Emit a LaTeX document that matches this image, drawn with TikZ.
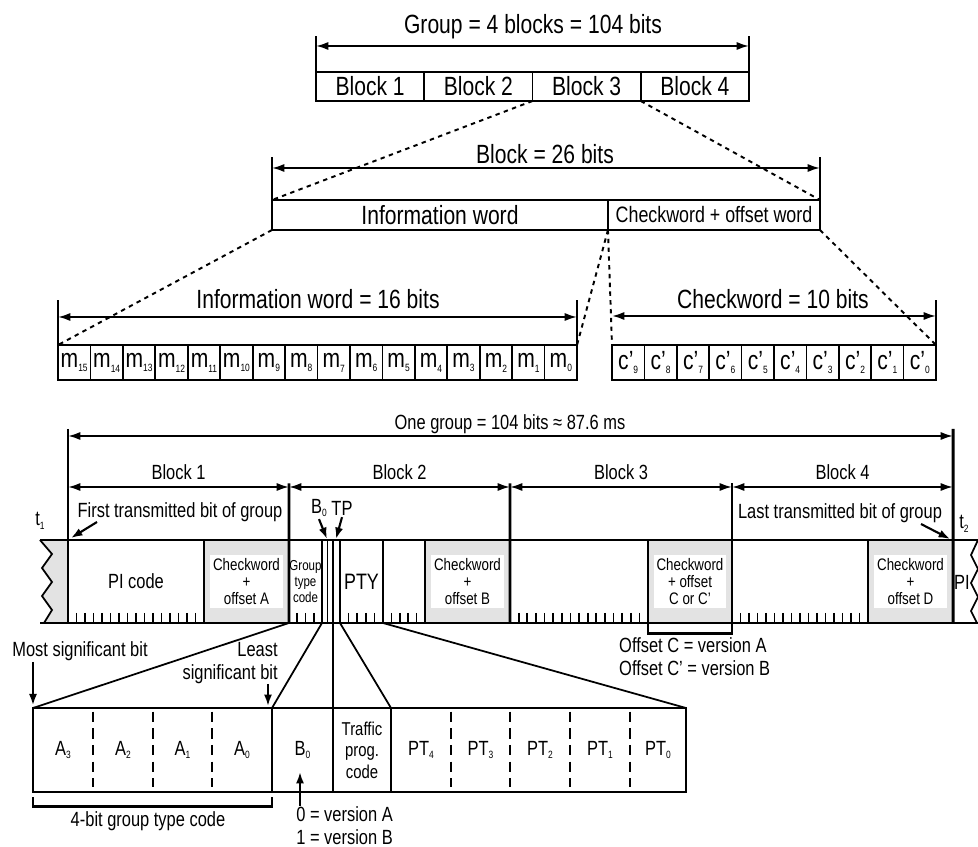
\documentclass[tikz,border=0pt]{standalone}
\usepackage{fontspec}
\setmainfont{Liberation Sans}[FakeStretch=0.8]
\usetikzlibrary{arrows.meta}

\newcommand{\lo}[1]{\raisebox{-0.35ex}{\fontsize{6}{6}\selectfont #1}}

\begin{document}
\begin{tikzpicture}[x=0.02cm, y=-0.02cm,
		big/.style={font=\fontsize{15}{17}\selectfont},
		lab/.style={font=\fontsize{11.7}{13.5}\selectfont},
		boxtext/.style={font=\fontsize{9.5}{9.8}\selectfont},
		cell/.style={draw, line width=1pt, inner sep=0pt, outer sep=0pt, big},
		field/.style={draw, line width=1pt, inner sep=0pt, outer sep=0pt, minimum height=1.66cm},
		bitcell/.style={inner sep=0pt, outer sep=0pt, minimum height=1.68cm, align=center, lab},
		whitebox/.style={fill=white, inner sep=0pt, minimum width=1.45cm, minimum height=1.06cm, align=center, boxtext},
		frame/.style={line width=1pt},
		heavy/.style={line width=1.7pt},
		dimline/.style={line width=1.1pt, {Latex[length=7pt,width=4.6pt]}-{Latex[length=7pt,width=4.6pt]}},
		ptr/.style={line width=1.2pt, -{Latex[length=6.5pt,width=4.6pt]}},
		link/.style={line width=1.1pt, dash pattern=on 2.5pt off 2.5pt},
		bitdash/.style={line width=1.6pt, dash pattern=on 6pt off 3.5pt}
	]
	\useasboundingbox (0,0) rectangle (978,847);

	% group = 4 blocks
	\foreach \i in {1,...,4}
		\node[cell, minimum width=2.165cm, minimum height=0.58cm] (blk\i) at ({316+108.25*(\i-0.5)},86.5) {Block \i};
	\coordinate (grpL) at (316,46);
	\coordinate (grpR) at (749,46);
	\draw[frame] (blk1.north west) -- ++(0,-36);
	\draw[frame] (blk4.north east) -- ++(0,-36);
	\draw[dimline] (grpL) -- (grpR);
	\node[big] (grplbl) at (533,27) {Group = 4 blocks = 104 bits};

	% one block
	\node[cell, minimum width=6.72cm, minimum height=0.6cm] (info) at (440,215) {Information word};
	\node[cell, minimum width=4.24cm, minimum height=0.6cm, font=\fontsize{12.7}{14}\selectfont] (check) at (714,215) {Checkword + offset word};
	\coordinate (blkL) at (272,168);
	\coordinate (blkR) at (820,168);
	\draw[frame] (info.north west) -- ++(0,-43);
	\draw[frame] (check.north east) -- ++(0,-43);
	\draw[dimline] (blkL) -- (blkR);
	\node[big] (blklbl) at (545,154) {Block = 26 bits};
	\draw[link] (blk3.south west) -- (info.north west);
	\draw[link] (blk3.south east) -- (check.north east);

	% bits of the block
	\foreach \n in {15,...,0}
		\node[cell, minimum width=0.6488cm, minimum height=0.7cm] (m\n) at ({58+32.44*(15.5-\n)},362.5) {m\lo{\n}};
	\foreach \n in {9,...,0}
		\node[cell, minimum width=0.648cm, minimum height=0.7cm] (c\n) at ({612+32.4*(9.5-\n)},362.5) {c'\lo{\n}};
	\coordinate (infL) at (58,317);
	\coordinate (infR) at (577,317);
	\coordinate (chkL) at (612,316);
	\coordinate (chkR) at (936,316);
	\draw[frame] (m15.north west) -- ++(0,-45);
	\draw[frame] (m0.north east) -- ++(0,-45);
	\draw[frame] (c0.north east) -- ++(0,-45);
	\draw[dimline] (infL) -- (infR);
	\draw[dimline] (chkL) -- (chkR);
	\node[big] (inflbl) at (318,299) {Information word = 16 bits};
	\node[big] (chklbl) at (773,299) {Checkword = 10 bits};
	\draw[link] (info.south west) -- (m15.north west);
	\draw[link] (info.south east) -- (m0.north east);
	\draw[link] (info.south east) -- (c9.north west);
	\draw[link] (check.south east) -- (c0.north east);

	% transmitted bit stream
	\node[lab] (onelbl) at (510,424) {One group = 104 bits ≈ 87.6 ms};
	\coordinate (oneL) at (68,436);
	\coordinate (oneR) at (953,436);
	\draw[dimline] (oneL) -- (oneR);
	\foreach \i/\xa/\xb in {1/68/289, 2/289/510, 3/510/732, 4/732/953} {
		\coordinate (bl\i) at (\xa,487);
		\coordinate (br\i) at (\xb,487);
		\draw[dimline] (bl\i) -- (br\i);
		\node[lab] (blab\i) at ({(\xa+\xb)/2},472) {Block \i};
	}

	\fill[black!11] (40,540) -- (68,540) -- (68,623) -- (44,623) -- (52,610) -- (42,596) -- (52,582) -- (42,568) -- (52,554) -- cycle;
	\draw[frame] (40,540) -- (52,554) -- (42,568) -- (52,582) -- (42,596) -- (52,610) -- (44,623);
	\draw[frame] (978,540) -- (971,555) -- (978,569) -- (971,583) -- (978,597) -- (971,611) -- (977,623);

	\foreach \nm/\xa/\xb/\fc in {picode/68/204/white, cka/204/289/black!11, gtc/289/322/white, bz/322/333/white, tp/333/340/white, pty/340/383/white, rest/383/425/white, ckb/425/510/black!11, bth/510/648/white, ckc/648/732/black!11, bfo/732/868/white, ckd/868/953/black!11}
		\node[field, fill=\fc, minimum width={(\xb-\xa)*0.02cm}] (\nm) at ({(\xa+\xb)/2},581.5) {};
	\foreach \xa/\n/\d in {68/15/8.5, 510/15/8.63, 732/15/8.5, 289/3/8.25, 340/4/8.6, 383/4/8.4}
		\foreach \k in {1,...,\n}
			\draw[line width=1pt] ({\xa+\d*\k},613) -- ({\xa+\d*\k},623);

	\draw[heavy] (40,540) -- (978,540);
	\draw[heavy] (40,623) -- (978,623);
	\draw[heavy] ([yshift=4pt]oneL) -- (picode.south west);
	\draw[heavy] ([yshift=4pt]oneR) -- (ckd.south east);
	\draw[heavy] ([yshift=2pt]br1) -- (cka.south east);
	\draw[heavy] ([yshift=2pt]br2) -- (ckb.south east);
	\draw[heavy] ([yshift=2pt]br3) -- (ckc.south east);
	\draw[heavy] (tp.north west) -- (tp.south west);
	\draw[frame] (bz.north) -- (bz.south);

	\node[lab] (pilbl) at (picode) {PI code};
	\node[whitebox] (ckalbl) at (cka) {Checkword\\+\\offset A};
	\node[font=\fontsize{8.2}{9}\selectfont, align=center, inner sep=0pt] (gtclbl) at (gtc) {Group\\type\\code};
	\node[font=\fontsize{12.7}{14}\selectfont] (ptylbl) at (pty) {PTY};
	\node[whitebox] (ckblbl) at (ckb) {Checkword\\+\\offset B};
	\node[whitebox] (ckclbl) at (ckc) {Checkword\\+ offset\\C or C'};
	\node[whitebox] (ckdlbl) at (ckd) {Checkword\\+\\offset D};
	\node[lab, inner sep=0pt] (nextpi) at (962,582) {PI};

	\node[lab] (t1lbl) at (40,521) {t\lo{1}};
	\node[lab] (t2lbl) at (964,524) {t\lo{2}};
	\node[lab] (firstlbl) at (180,512) {First transmitted bit of group};
	\coordinate (firsttail) at (97,522);
	\coordinate (firstbit) at (71,538);
	\draw[ptr] (firsttail) -- (firstbit);
	\node[lab] (lastlbl) at (840,513) {Last transmitted bit of group};
	\coordinate (lasttail) at (921,524);
	\coordinate (lastbit) at (950,539);
	\draw[ptr] (lasttail) -- (lastbit);

	\node[lab, inner sep=1pt] (b0lbl) at (319,508) {B\lo{0}};
	\node[lab, inner sep=1pt] (tplbl) at (342,508) {TP};
	\coordinate (b0bit) at (327,539);
	\coordinate (tpbit) at (336,539);
	\draw[ptr] (b0lbl.south) -- (b0bit);
	\draw[ptr] (tplbl.south) -- (tpbit);

	\draw[heavy] (ckc.south west) -- ++(0,11) -| (ckc.south east);
	\node[lab, anchor=west] (offc) at (613,645) {Offset C = version A};
	\node[lab, anchor=west] (offcp) at (613,668) {Offset C' = version B};

	% block 2 in detail
	\foreach \nm/\xa/\xb/\txt in {a3/33/93/A\lo{3}, a2/93/153/A\lo{2}, a1/153/212/A\lo{1}, a0/212/272/A\lo{0}, bit0/272/333/B\lo{0}, pt4/391/451/PT\lo{4}, pt3/451/510/PT\lo{3}, pt2/510/570/PT\lo{2}, pt1/570/630/PT\lo{1}, pt0/630/686/PT\lo{0}}
		\node[bitcell, minimum width={(\xb-\xa)*0.02cm}] (\nm) at ({(\xa+\xb)/2},750) {\txt};
	\node[bitcell, minimum width=1.16cm, font=\fontsize{10.6}{12.3}\selectfont] (tpc) at (362,750) {Traffic\\prog.\\code};

	\draw[line width=1.2pt] (a3.north west) rectangle (pt0.south east);
	\draw[frame] (bit0.north west) -- (bit0.south west);
	\draw[frame] (tpc.north west) -- (tpc.south west);
	\draw[heavy] (tpc.north east) -- (tpc.south east);
	\foreach \nm in {a2,a1,a0,pt3,pt2,pt1,pt0}
		\draw[bitdash] ([yshift=-2pt]\nm.north west) -- ([yshift=3pt]\nm.south west);

	\draw[frame] (gtc.south west) -- (a3.north west);
	\draw[frame] (gtc.south east) -- (bit0.north west);
	\draw[frame] (tp.south west) -- (tpc.north west);
	\draw[frame] (tp.south east) -- (tpc.north east);
	\draw[frame] (pty.south east) -- (pt0.north east);

	\node[lab] (msblbl) at (80,651) {Most significant bit};
	\coordinate (msbtail) at (33,662);
	\draw[ptr] (msbtail) -- ([yshift=1.5pt]a3.north west);
	\node[lab, align=right, anchor=east, inner sep=0pt] (lsblbl) at (278,663) {Least\\significant bit};
	\coordinate (lsbtail) at (268,684);
	\coordinate (lsbbit) at (268,706);
	\draw[ptr] (lsbtail) -- (lsbbit);

	\draw[heavy] ([yshift=-3pt]a3.south west) -- ([yshift=-8.5pt]a3.south west) -| ([yshift=-3pt]a0.south east);
	\node[lab] (gtcname) at (148,821) {4-bit group type code};

	\node[lab, align=left, anchor=north west, inner sep=0pt] (verlbl) at (296,806) {0 = version A\\1 = version B};
	\coordinate (vertail) at (300,806);
	\coordinate (verhead) at (300,772);
	\draw[ptr] (vertail) -- (verhead);
\end{tikzpicture}
\end{document}
